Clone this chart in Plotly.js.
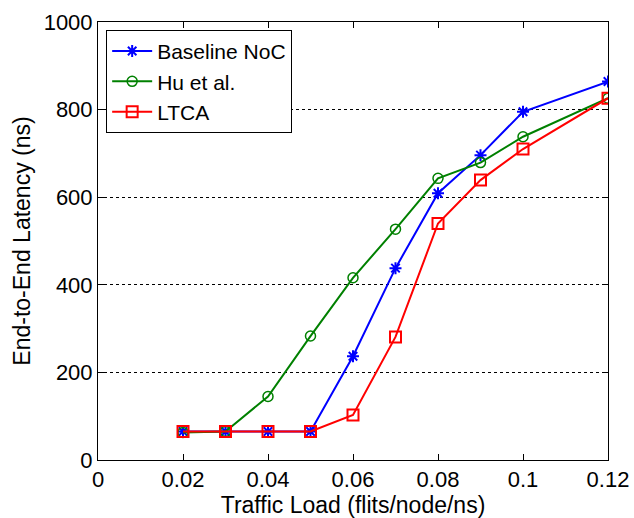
<!DOCTYPE html>
<html>
<head>
<meta charset="utf-8">
<script src="https://cdn.plot.ly/plotly-3.0.1.min.js"></script>
<style>html,body{margin:0;padding:0;background:#fff;}#chart{width:634px;height:518px;}</style>
</head>
<body>
<div id="chart"></div>
<script>
const trafficLoad = [0.02, 0.03, 0.04, 0.05, 0.06, 0.07, 0.08, 0.09, 0.10, 0.12];
const baselineNoC = [65, 65, 65, 65, 237, 438, 609, 696, 795, 864];
const huEtAl = [63, 65, 145, 283, 416, 527, 643, 679, 738, 826];
const ltca = [65, 65, 65, 65, 103, 281, 540, 639, 710, 826];
const xTicks = [0, 0.02, 0.04, 0.06, 0.08, 0.1, 0.12];
const xTickLabels = ['0', '0.02', '0.04', '0.06', '0.08', '0.1', '0.12'];
const yTicks = [0, 200, 400, 600, 800, 1000];

const FONT = 'Liberation Sans, Arial, sans-serif';

const traces = [
  {x: trafficLoad, y: baselineNoC, name: 'Baseline NoC', mode: 'lines+markers',
   line: {color: '#0000ff', width: 2}, marker: {symbol: 'asterisk-open', size: 10, color: '#0000ff', line: {color: '#0000ff', width: 2}}},
  {x: trafficLoad, y: huEtAl, name: 'Hu et al.', mode: 'lines+markers',
   line: {color: '#008000', width: 2}, marker: {symbol: 'circle-open', size: 10, color: '#008000', line: {color: '#008000', width: 1.5}}},
  {x: trafficLoad, y: ltca, name: 'LTCA', mode: 'lines+markers',
   line: {color: '#ff0000', width: 2}, marker: {symbol: 'square-open', size: 11, color: '#ff0000', line: {color: '#ff0000', width: 2}}}
];

const axisCommon = {
  showline: true, linecolor: '#000', linewidth: 1, mirror: 'ticks',
  ticks: 'inside', ticklen: 6, tickcolor: '#000', zeroline: false,
  tickfont: {family: FONT, size: 22, color: '#000'}
};

const layout = {
  width: 634, height: 518,
  margin: {l: 98, r: 26, t: 22, b: 58},
  paper_bgcolor: '#fff', plot_bgcolor: '#fff',
  showlegend: true,
  legend: {x: 0.016, y: 0.982, xanchor: 'left', yanchor: 'top', bgcolor: '#fff',
           bordercolor: '#000', borderwidth: 1,
           font: {family: FONT, size: 21, color: '#000'},
           tracegroupgap: 0, itemwidth: 40},
  xaxis: Object.assign({}, axisCommon, {
    range: [0, 0.12], tickvals: xTicks, ticktext: xTickLabels, showgrid: false,
    title: {text: 'Traffic Load (flits/node/ns)', font: {family: FONT, size: 23, color: '#000'}, standoff: 2}
  }),
  yaxis: Object.assign({}, axisCommon, {
    range: [0, 1000], tickvals: yTicks, showgrid: true, gridcolor: '#000', griddash: 'dot', gridwidth: 1,
    title: {text: 'End-to-End Latency (ns)', font: {family: FONT, size: 23, color: '#000'}, standoff: 6}
  })
};

Plotly.newPlot('chart', traces, layout, {displayModeBar: false, staticPlot: true});
</script>
</body>
</html>
